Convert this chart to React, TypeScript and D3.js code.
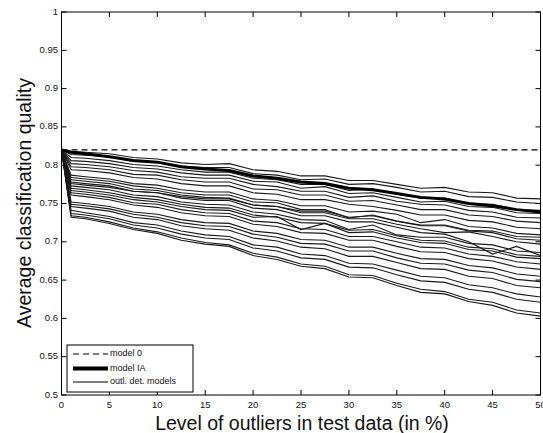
import React from "react";
import * as d3 from "d3";

const xLevels = [0, 1, 2.5, 5, 7.5, 10, 12.5, 15, 17.5, 20, 22.5, 25, 27.5, 30, 32.5, 35, 37.5, 40, 42.5, 45, 47.5, 50];
const xTicks = [0, 5, 10, 15, 20, 25, 30, 35, 40, 45, 50];
const yTicks = [0.5, 0.55, 0.6, 0.65, 0.7, 0.75, 0.8, 0.85, 0.9, 0.95, 1];
const yTickLabels = ["0.5", "0.55", "0.6", "0.65", "0.7", "0.75", "0.8", "0.85", "0.9", "0.95", "1"];

const model0 = 0.82;
const modelIA = [0.82, 0.817, 0.815, 0.811, 0.806, 0.804, 0.798, 0.795, 0.793, 0.786, 0.783, 0.778, 0.776, 0.770, 0.768, 0.763, 0.758, 0.756, 0.750, 0.747, 0.742, 0.739];

const outlDetModels = [
  [0.82, 0.818, 0.817, 0.815, 0.810, 0.808, 0.803, 0.801, 0.802, 0.794, 0.792, 0.786, 0.786, 0.780, 0.780, 0.775, 0.770, 0.771, 0.765, 0.764, 0.757, 0.756],
  [0.82, 0.814, 0.813, 0.811, 0.805, 0.804, 0.799, 0.797, 0.797, 0.789, 0.787, 0.781, 0.782, 0.775, 0.776, 0.771, 0.765, 0.766, 0.759, 0.758, 0.752, 0.750],
  [0.82, 0.810, 0.809, 0.806, 0.801, 0.799, 0.794, 0.791, 0.791, 0.783, 0.781, 0.775, 0.775, 0.767, 0.769, 0.762, 0.757, 0.757, 0.750, 0.749, 0.742, 0.741],
  [0.82, 0.806, 0.805, 0.802, 0.797, 0.795, 0.790, 0.787, 0.787, 0.779, 0.778, 0.770, 0.772, 0.763, 0.764, 0.758, 0.752, 0.753, 0.746, 0.745, 0.738, 0.737],
  [0.82, 0.802, 0.801, 0.798, 0.793, 0.791, 0.785, 0.783, 0.783, 0.775, 0.772, 0.766, 0.766, 0.758, 0.760, 0.753, 0.749, 0.748, 0.741, 0.739, 0.732, 0.731],
  [0.82, 0.798, 0.797, 0.794, 0.788, 0.787, 0.781, 0.778, 0.778, 0.769, 0.768, 0.761, 0.761, 0.753, 0.754, 0.748, 0.742, 0.742, 0.735, 0.733, 0.727, 0.725],
  [0.82, 0.794, 0.793, 0.790, 0.784, 0.782, 0.776, 0.773, 0.773, 0.764, 0.762, 0.755, 0.755, 0.749, 0.746, 0.741, 0.735, 0.735, 0.728, 0.726, 0.719, 0.717],
  [0.82, 0.787, 0.785, 0.782, 0.776, 0.774, 0.768, 0.765, 0.765, 0.756, 0.754, 0.747, 0.747, 0.739, 0.740, 0.736, 0.725, 0.729, 0.720, 0.718, 0.711, 0.709],
  [0.82, 0.784, 0.782, 0.779, 0.773, 0.770, 0.764, 0.761, 0.761, 0.752, 0.751, 0.742, 0.742, 0.731, 0.735, 0.727, 0.721, 0.721, 0.714, 0.712, 0.704, 0.702],
  [0.82, 0.781, 0.779, 0.776, 0.769, 0.767, 0.761, 0.758, 0.757, 0.748, 0.746, 0.738, 0.738, 0.730, 0.730, 0.723, 0.717, 0.712, 0.713, 0.707, 0.700, 0.697],
  [0.82, 0.778, 0.776, 0.773, 0.766, 0.764, 0.757, 0.754, 0.754, 0.744, 0.742, 0.734, 0.734, 0.726, 0.726, 0.719, 0.712, 0.710, 0.700, 0.684, 0.694, 0.682],
  [0.82, 0.776, 0.774, 0.771, 0.766, 0.764, 0.759, 0.756, 0.756, 0.748, 0.746, 0.740, 0.740, 0.732, 0.734, 0.727, 0.722, 0.722, 0.715, 0.714, 0.707, 0.706],
  [0.82, 0.773, 0.771, 0.768, 0.761, 0.759, 0.752, 0.749, 0.748, 0.739, 0.736, 0.729, 0.728, 0.716, 0.722, 0.709, 0.706, 0.706, 0.698, 0.696, 0.688, 0.686],
  [0.82, 0.770, 0.768, 0.764, 0.758, 0.755, 0.749, 0.745, 0.744, 0.735, 0.732, 0.725, 0.724, 0.715, 0.716, 0.708, 0.702, 0.701, 0.693, 0.691, 0.683, 0.681],
  [0.82, 0.767, 0.765, 0.761, 0.755, 0.752, 0.746, 0.742, 0.741, 0.732, 0.733, 0.716, 0.724, 0.712, 0.713, 0.705, 0.699, 0.698, 0.690, 0.688, 0.680, 0.678],
  [0.82, 0.764, 0.762, 0.758, 0.751, 0.749, 0.742, 0.738, 0.737, 0.727, 0.725, 0.717, 0.716, 0.707, 0.707, 0.700, 0.693, 0.692, 0.684, 0.681, 0.674, 0.671],
  [0.82, 0.761, 0.759, 0.755, 0.748, 0.745, 0.738, 0.734, 0.733, 0.723, 0.720, 0.712, 0.711, 0.702, 0.702, 0.694, 0.687, 0.686, 0.678, 0.675, 0.667, 0.664],
  [0.82, 0.752, 0.750, 0.746, 0.739, 0.736, 0.729, 0.725, 0.724, 0.714, 0.711, 0.703, 0.702, 0.693, 0.693, 0.685, 0.678, 0.677, 0.669, 0.666, 0.658, 0.655],
  [0.82, 0.749, 0.747, 0.743, 0.736, 0.732, 0.725, 0.721, 0.720, 0.710, 0.706, 0.698, 0.697, 0.688, 0.688, 0.679, 0.672, 0.671, 0.663, 0.660, 0.651, 0.648],
  [0.82, 0.746, 0.744, 0.740, 0.732, 0.729, 0.721, 0.717, 0.715, 0.705, 0.701, 0.693, 0.691, 0.681, 0.681, 0.673, 0.665, 0.664, 0.655, 0.652, 0.643, 0.640],
  [0.82, 0.741, 0.738, 0.733, 0.725, 0.722, 0.714, 0.709, 0.707, 0.696, 0.693, 0.684, 0.682, 0.672, 0.671, 0.663, 0.655, 0.653, 0.644, 0.640, 0.632, 0.628],
  [0.82, 0.737, 0.735, 0.730, 0.722, 0.718, 0.710, 0.705, 0.703, 0.692, 0.688, 0.679, 0.677, 0.667, 0.666, 0.657, 0.649, 0.647, 0.638, 0.634, 0.625, 0.621],
  [0.82, 0.734, 0.732, 0.726, 0.718, 0.713, 0.705, 0.699, 0.696, 0.685, 0.680, 0.671, 0.668, 0.657, 0.656, 0.646, 0.638, 0.635, 0.625, 0.621, 0.611, 0.607],
  [0.82, 0.732, 0.730, 0.724, 0.716, 0.711, 0.702, 0.697, 0.694, 0.682, 0.677, 0.668, 0.665, 0.654, 0.653, 0.643, 0.634, 0.632, 0.622, 0.617, 0.607, 0.603],
];

const legendLabels = ["model 0", "model IA", "outl. det. models"];

const W = 543;
const H = 433;
const FONT = "'Liberation Sans', Arial, Helvetica, sans-serif";

export default function App() {
  const x = d3.scaleLinear().domain([0, 50]).range([61.5, 540.5]);
  const y = d3.scaleLinear().domain([0.5, 1]).range([395, 12]);
  const line = d3
    .line<number>()
    .x((_, i) => x(xLevels[i]))
    .y((d) => y(d));

  const [x0, x1] = x.range();
  const [y0, y1] = y.range();
  const tickLen = 5;

  const legX = 67;
  const legY = 345;
  const legW = 126;
  const legH = 47;
  const rowY = [354, 368.5, 382];

  return (
    <svg
      width={W}
      height={H}
      style={{ position: "absolute", left: 0, top: 0, background: "#fff" }}
      xmlns="http://www.w3.org/2000/svg"
    >
      <rect x={0} y={0} width={W} height={H} fill="#fff" />
      {outlDetModels.map((s, i) => (
        <path key={i} d={line(s) || ""} fill="none" stroke="#1a1a1a" strokeWidth={1.1} />
      ))}
      <path d={line(modelIA) || ""} fill="none" stroke="#000" strokeWidth={3} />
      <line
        x1={x(0)}
        x2={x(50)}
        y1={y(model0)}
        y2={y(model0)}
        stroke="#000"
        strokeWidth={1.2}
        strokeDasharray="6,4"
      />
      <rect x={x0} y={y1} width={x1 - x0} height={y0 - y1} fill="none" stroke="#000" strokeWidth={1} />
      {xTicks.map((t) => (
        <g key={"xt" + t}>
          <line x1={x(t)} x2={x(t)} y1={y0} y2={y0 - tickLen} stroke="#000" />
          <line x1={x(t)} x2={x(t)} y1={y1} y2={y1 + tickLen} stroke="#000" />
          <text
            x={x(t)}
            y={405}
            fontSize={9.5}
            fontFamily={FONT}
            textAnchor="middle"
            dominantBaseline="middle"
            fill="#111"
          >
            {t}
          </text>
        </g>
      ))}
      {yTicks.map((t, i) => (
        <g key={"yt" + t}>
          <line x1={x0} x2={x0 + tickLen} y1={y(t)} y2={y(t)} stroke="#000" />
          <line x1={x1} x2={x1 - tickLen} y1={y(t)} y2={y(t)} stroke="#000" />
          <text
            x={58}
            y={y(t)}
            fontSize={9.5}
            fontFamily={FONT}
            textAnchor="end"
            dominantBaseline="middle"
            fill="#111"
          >
            {yTickLabels[i]}
          </text>
        </g>
      ))}
      <text
        x={302}
        y={429.5}
        fontSize={19.5}
        fontFamily={FONT}
        textAnchor="middle"
        fill="#111"
      >
        Level of outliers in test data (in %)
      </text>
      <text
        transform={`translate(31, 203) rotate(-90)`}
        fontSize={19.5}
        fontFamily={FONT}
        textAnchor="middle"
        fill="#111"
      >
        Average classification quality
      </text>
      <rect x={legX} y={legY} width={legW} height={legH} fill="#fff" stroke="#000" strokeWidth={1} />
      <line x1={73} x2={108} y1={rowY[0]} y2={rowY[0]} stroke="#000" strokeWidth={1.2} strokeDasharray="6,4" />
      <line x1={73} x2={108} y1={rowY[1]} y2={rowY[1]} stroke="#000" strokeWidth={4} />
      <line x1={73} x2={108} y1={rowY[2]} y2={rowY[2]} stroke="#000" strokeWidth={1} />
      {legendLabels.map((l, i) => (
        <text
          key={l}
          x={110}
          y={rowY[i]}
          fontSize={9}
          fontFamily={FONT}
          dominantBaseline="middle"
          fill="#111"
        >
          {l}
        </text>
      ))}
    </svg>
  );
}
